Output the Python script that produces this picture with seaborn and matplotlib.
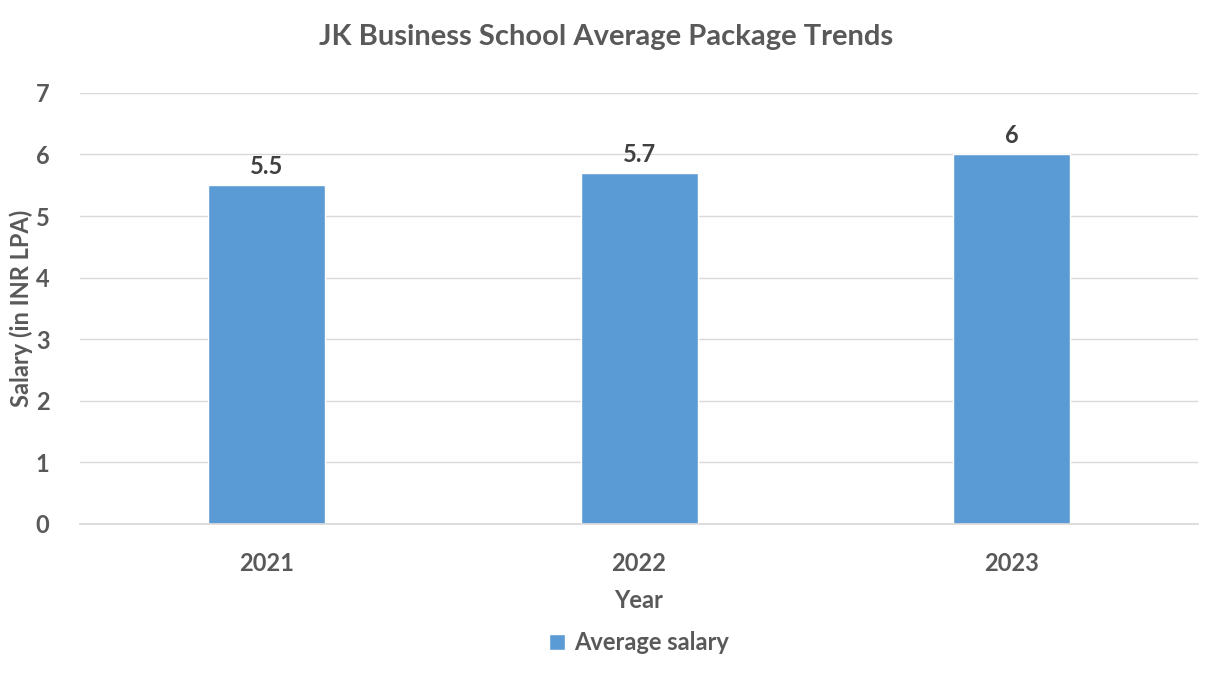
import matplotlib
matplotlib.use("Agg")
import matplotlib.pyplot as plt
import seaborn as sns
import pandas as pd

years = ["2021", "2022", "2023"]
salaries = [5.5, 5.7, 6.0]
labels = ["5.5", "5.7", "6"]

sns.set_theme(style="white")
plt.rcParams['font.family'] = ['Lato', 'DejaVu Sans']
grey = "#595959"
color = "#5b9bd5"

fig = plt.figure(figsize=(12.12, 6.79), dpi=100)
ax = fig.add_axes([0.066, 0.2283, 0.9225, 0.635])
df = pd.DataFrame({"Year": years, "Average salary": salaries})
sns.barplot(data=df, x="Year", y="Average salary", color=color, width=0.314,
            saturation=1, ax=ax, label="Average salary")
ax.set_ylim(0, 7)
ax.set_xlim(-0.5, 2.5)
ax.set_yticks(range(8))
ax.yaxis.grid(True, color="#d9d9d9", linewidth=1)
ax.set_axisbelow(True)
for s in ["top", "right", "left"]:
    ax.spines[s].set_visible(False)
ax.spines["bottom"].set_color("#d9d9d9")
ax.tick_params(axis="both", length=0, labelsize=17, labelcolor=grey)
for t in ax.get_xticklabels() + ax.get_yticklabels():
    t.set_fontweight("bold")
ax.tick_params(axis="x", pad=20)
ax.tick_params(axis="y", pad=22)
for i, (v, l) in enumerate(zip(salaries, labels)):
    ax.text(i, v + 0.12, l, ha="center", va="bottom", fontsize=17, fontweight="bold", color="#404040")
ax.set_xlabel("Year", fontsize=17, fontweight="bold", color=grey, labelpad=10)
ax.set_ylabel("Salary (in INR LPA)", fontsize=17, fontweight="bold", color=grey, va="center")
ax.yaxis.set_label_coords(-0.053, 0.5)
fig.suptitle("JK Business School Average Package Trends", x=0.5, y=0.965, fontsize=21,
             fontweight="bold", color=grey)
ax.legend(loc="upper center", bbox_to_anchor=(0.5, -0.2), frameon=False,
          handlelength=0.7, handleheight=0.7, handletextpad=0.4, labelcolor=grey,
          prop={"weight": "bold", "size": 17})
fig.savefig("out.png", dpi=100)
